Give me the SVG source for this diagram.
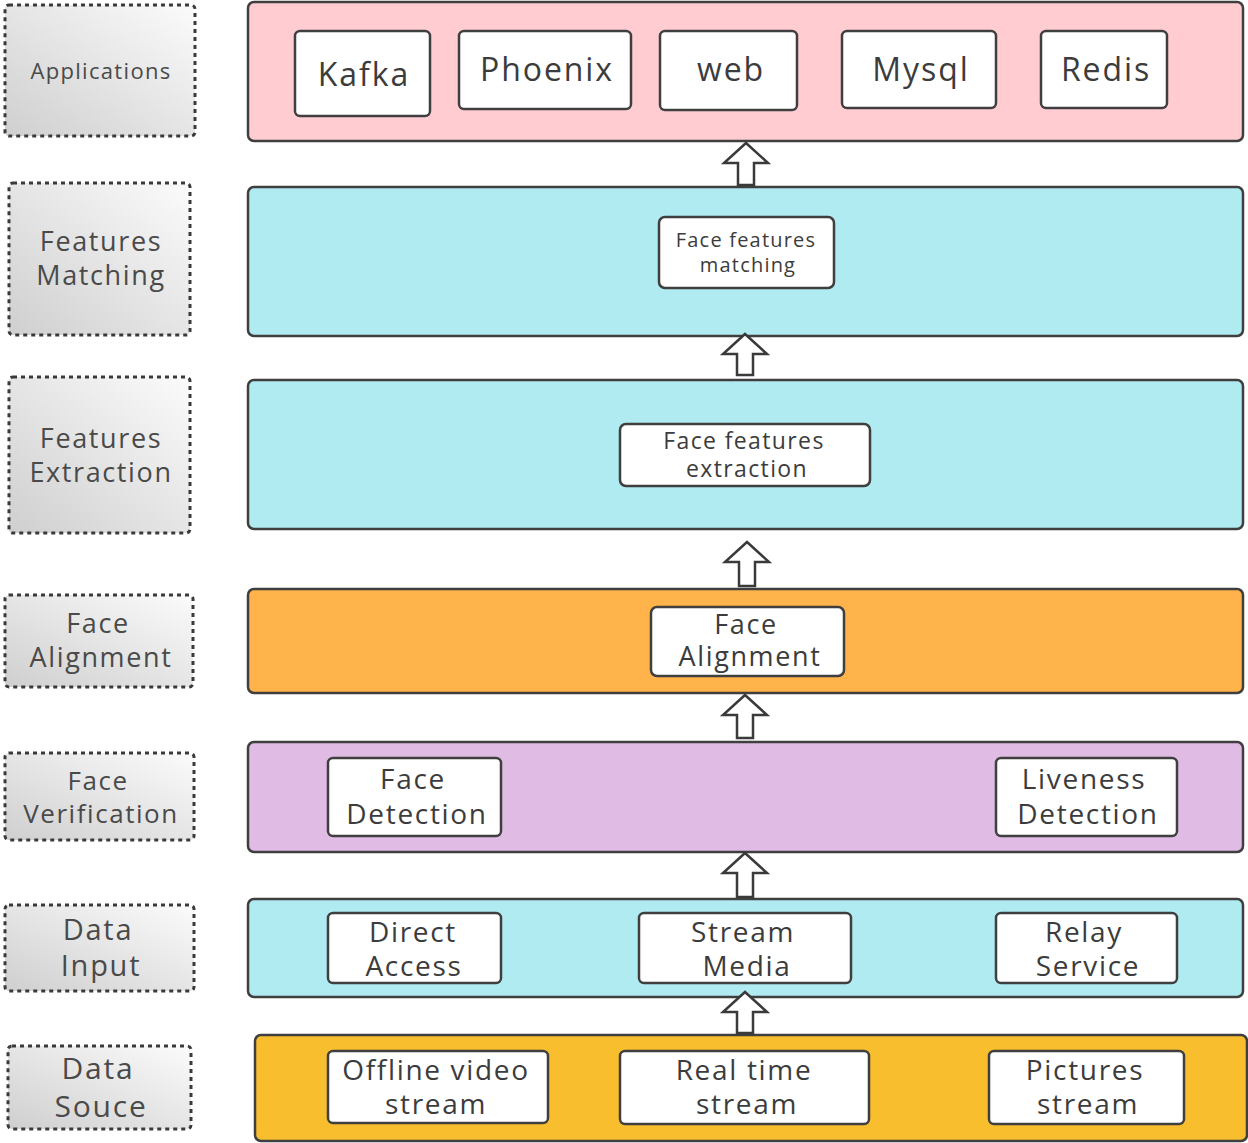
<svg xmlns="http://www.w3.org/2000/svg" width="1248" height="1143" viewBox="0 0 1248 1143">
<defs>
<linearGradient id="lg" x1="0" y1="1" x2="1" y2="0">
<stop offset="0" stop-color="#cfcfcf"/>
<stop offset="1" stop-color="#fbfbfb"/>
</linearGradient>
</defs>
<style>
.lbl{fill:url(#lg);stroke:#3a3a3a;stroke-width:3;stroke-dasharray:4 4}
.layer{stroke:#3f3f3f;stroke-width:2.5}
.box{fill:#fff;stroke:#3f3f3f;stroke-width:2.5}
.arr{fill:#fff;stroke:#3a3a3a;stroke-width:2.5;stroke-linejoin:miter}
text{font-family:"Open Sans","Noto Sans","DejaVu Sans",sans-serif;fill:#3c3c3c;text-anchor:middle;letter-spacing:0.06em}
.lt{fill:#4a4a4a}
</style>
<rect width="1248" height="1143" fill="#fff"/>

<g id="label-applications"><rect class="lbl" x="5" y="5" width="190" height="131" rx="4"/><text class="lt" x="101" y="79" font-size="22">Applications</text></g>
<g id="label-features-matching"><rect class="lbl" x="9" y="183" width="181" height="152" rx="4"/><text class="lt" x="101" y="251" font-size="27">Features</text><text class="lt" x="101" y="285" font-size="27">Matching</text></g>
<g id="label-features-extraction"><rect class="lbl" x="9" y="377" width="181" height="156" rx="4"/><text class="lt" x="101" y="448" font-size="27">Features</text><text class="lt" x="101" y="482" font-size="27">Extraction</text></g>
<g id="label-face-alignment"><rect class="lbl" x="5" y="595" width="188" height="92" rx="4"/><text class="lt" x="98" y="633" font-size="27">Face</text><text class="lt" x="101" y="667" font-size="27">Alignment</text></g>
<g id="label-face-verification"><rect class="lbl" x="5" y="753" width="189" height="87" rx="4"/><text class="lt" x="98" y="790" font-size="26">Face</text><text class="lt" x="101" y="823" font-size="26">Verification</text></g>
<g id="label-data-input"><rect class="lbl" x="5" y="905" width="189" height="86" rx="4"/><text class="lt" x="98" y="940" font-size="29">Data</text><text class="lt" x="101" y="976" font-size="29">Input</text></g>
<g id="label-data-souce"><rect class="lbl" x="8" y="1046" width="183" height="83" rx="4"/><text class="lt" x="98" y="1079" font-size="30">Data</text><text class="lt" x="101" y="1117" font-size="30">Souce</text></g>

<g id="layer-applications">
<rect class="layer" x="248" y="2" width="995" height="139" rx="6" fill="#ffccd2"/>
<g id="kafka"><rect class="box" x="295" y="31" width="135" height="85" rx="5"/><text x="364" y="86" font-size="32">Kafka</text></g>
<g id="phoenix"><rect class="box" x="459" y="31" width="172" height="78" rx="5"/><text x="547" y="81" font-size="32">Phoenix</text></g>
<g id="web"><rect class="box" x="660" y="31" width="137" height="79" rx="5"/><text x="731" y="81" font-size="32">web</text></g>
<g id="mysql"><rect class="box" x="842" y="31" width="154" height="77" rx="5"/><text x="921" y="81" font-size="32">Mysql</text></g>
<g id="redis"><rect class="box" x="1041" y="31" width="126" height="77" rx="5"/><text x="1106" y="81" font-size="32">Redis</text></g>
</g>

<g id="layer-features-matching">
<rect class="layer" x="248" y="187" width="995" height="149" rx="6" fill="#b0ebf2"/>
<g id="face-features-matching"><rect class="box" x="659" y="217" width="175" height="71" rx="6"/><text x="746" y="247" font-size="20">Face features</text><text x="748" y="272" font-size="20">matching</text></g>
</g>

<g id="layer-features-extraction">
<rect class="layer" x="248" y="380" width="995" height="149" rx="6" fill="#b0ebf2"/>
<g id="face-features-extraction"><rect class="box" x="620" y="424" width="250" height="62" rx="6"/><text x="744" y="449" font-size="23">Face features</text><text x="747" y="477" font-size="23">extraction</text></g>
</g>

<g id="layer-face-alignment">
<rect class="layer" x="248" y="589" width="995" height="104" rx="6" fill="#ffb34a"/>
<g id="face-alignment"><rect class="box" x="651" y="607" width="193" height="69" rx="6"/><text x="746" y="634" font-size="27">Face</text><text x="750" y="666" font-size="27">Alignment</text></g>
</g>

<g id="layer-face-verification">
<rect class="layer" x="248" y="742" width="995" height="110" rx="6" fill="#e0bbe4"/>
<g id="face-detection"><rect class="box" x="328" y="758" width="173" height="78" rx="5"/><text x="413" y="789" font-size="28">Face</text><text x="417" y="824" font-size="28">Detection</text></g>
<g id="liveness-detection"><rect class="box" x="996" y="758" width="181" height="78" rx="5"/><text x="1084" y="789" font-size="28">Liveness</text><text x="1088" y="824" font-size="28">Detection</text></g>
</g>

<g id="layer-data-input">
<rect class="layer" x="248" y="899" width="995" height="98" rx="6" fill="#b0ebf2"/>
<g id="direct-access"><rect class="box" x="328" y="913" width="173" height="70" rx="5"/><text x="413" y="942" font-size="28">Direct</text><text x="414" y="976" font-size="28">Access</text></g>
<g id="stream-media"><rect class="box" x="639" y="913" width="212" height="70" rx="5"/><text x="743" y="942" font-size="28">Stream</text><text x="747" y="976" font-size="28">Media</text></g>
<g id="relay-service"><rect class="box" x="996" y="913" width="181" height="70" rx="5"/><text x="1084" y="942" font-size="28">Relay</text><text x="1088" y="976" font-size="28">Service</text></g>
</g>

<g id="layer-data-source">
<rect class="layer" x="255" y="1035" width="992" height="106" rx="6" fill="#f8be2e"/>
<g id="offline-video-stream"><rect class="box" x="328" y="1051" width="220" height="72" rx="5"/><text x="436" y="1080" font-size="28">Offline video</text><text x="436" y="1114" font-size="28">stream</text></g>
<g id="real-time-stream"><rect class="box" x="620" y="1051" width="249" height="73" rx="5"/><text x="744" y="1080" font-size="28">Real time</text><text x="747" y="1114" font-size="28">stream</text></g>
<g id="pictures-stream"><rect class="box" x="989" y="1051" width="195" height="73" rx="5"/><text x="1085" y="1080" font-size="28">Pictures</text><text x="1088" y="1114" font-size="28">stream</text></g>
</g>

<g id="connectors">
<path class="arr" d="M746 143 L768 163 L754 163 L754 185 L738 185 L738 163 L724 163 Z"/>
<path class="arr" d="M745 334 L767 354 L753 354 L753 375 L737 375 L737 354 L723 354 Z"/>
<path class="arr" d="M747 542 L769 562 L755 562 L755 586 L739 586 L739 562 L725 562 Z"/>
<path class="arr" d="M745 695 L767 715 L753 715 L753 738 L737 738 L737 715 L723 715 Z"/>
<path class="arr" d="M745 853 L767 873 L753 873 L753 897 L737 897 L737 873 L723 873 Z"/>
<path class="arr" d="M745 992 L767 1012 L753 1012 L753 1033 L737 1033 L737 1012 L723 1012 Z"/>
</g>
</svg>
